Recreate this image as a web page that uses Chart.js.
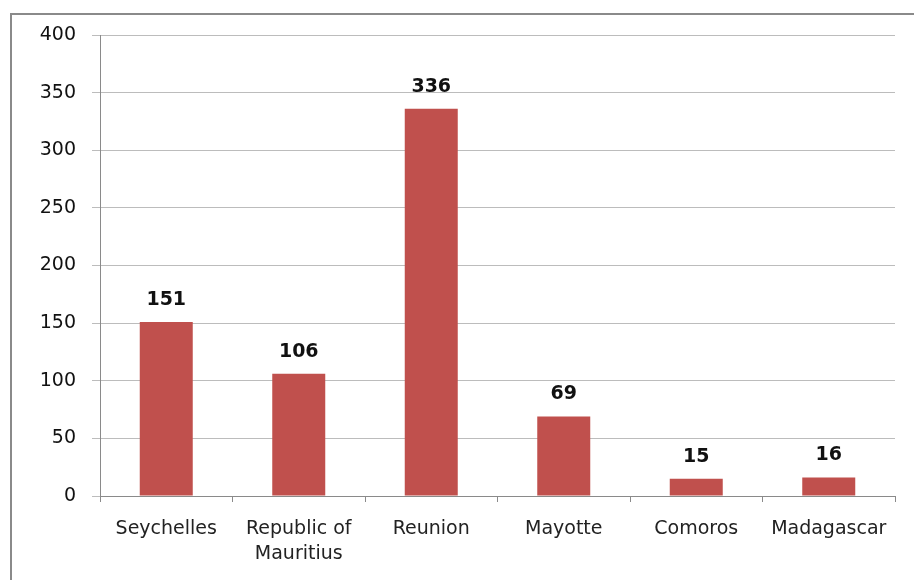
<!DOCTYPE html>
<html>
<head>
<meta charset="utf-8">
<script src="https://cdn.jsdelivr.net/npm/chart.js@4.4.1/dist/chart.umd.min.js"></script>
<style>
  html, body { margin: 0; padding: 0; background: #fff; }
  #wrap { width: 914px; height: 580px; position: relative; }
</style>
</head>
<body>
<div id="wrap"><canvas id="islandsChart" width="914" height="580"></canvas></div>
<script>
const categories = [['Seychelles'], ['Republic of', 'Mauritius'], ['Reunion'], ['Mayotte'], ['Comoros'], ['Madagascar']];
const values = [151, 106, 336, 69, 15, 16];
const yTicks = [0, 50, 100, 150, 200, 250, 300, 350, 400];

const FONT = "'DejaVu Sans', sans-serif";

// outer frame (top and left edges only are visible in the original)
const framePlugin = {
    id: 'frame',
    beforeDraw(chart) {
        const c = chart.ctx;
        c.save();
        c.fillStyle = '#fff';
        c.fillRect(0, 0, chart.width, chart.height);
        c.strokeStyle = '#8a8a8a';
        c.lineWidth = 2;
        c.beginPath();
        c.moveTo(11, chart.height);
        c.lineTo(11, 14);
        c.lineTo(chart.width, 14);
        c.stroke();
        c.restore();
    }
};

// bold value labels above each bar
const valueLabels = {
    id: 'valueLabels',
    afterDatasetsDraw(chart) {
        const c = chart.ctx;
        const meta = chart.getDatasetMeta(0);
        c.save();
        c.font = 'bold 19px ' + FONT;
        c.fillStyle = '#111';
        c.textAlign = 'center';
        c.textBaseline = 'middle';
        meta.data.forEach((bar, i) => {
            c.fillText(String(values[i]), bar.x, bar.y - 22);
        });
        c.restore();
    }
};

const ctx = document.getElementById('islandsChart').getContext('2d');
new Chart(ctx, {
    type: 'bar',
    data: {
        labels: categories,
        datasets: [{
            data: values,
            backgroundColor: '#c0504d',
            borderWidth: 0,
            barPercentage: 0.4,
            categoryPercentage: 1.0,
        }],
    },
    options: {
        responsive: false,
        animation: false,
        layout: { padding: { top: 35, right: 19, left: 0, bottom: 0 } },
        plugins: {
            legend: { display: false },
            tooltip: { enabled: false },
        },
        scales: {
            x: {
                grid: {
                    offset: true,
                    drawOnChartArea: false,
                    drawTicks: true,
                    tickLength: 6,
                    color: '#8a8a8a',
                },
                border: { color: '#8a8a8a', width: 1 },
                ticks: {
                    font: { family: FONT, size: 19, lineHeight: 1.3 },
                    color: '#222',
                    padding: 15,
                    maxRotation: 0,
                    autoSkip: false,
                },
                afterFit(axis) { axis.height = 84; },
            },
            y: {
                min: 0,
                max: 400,
                afterBuildTicks(axis) { axis.ticks = yTicks.map(v => ({ value: v })); },
                grid: {
                    color: '#bcbcbc',
                    tickLength: 8,
                    drawTicks: true,
                },
                border: { color: '#8a8a8a', width: 1 },
                ticks: {
                    font: { family: FONT, size: 19 },
                    color: '#111',
                    padding: 16,
                },
                afterFit(axis) { axis.width = 100; },
            },
        },
    },
    plugins: [framePlugin, valueLabels],
});
</script>
</body>
</html>
